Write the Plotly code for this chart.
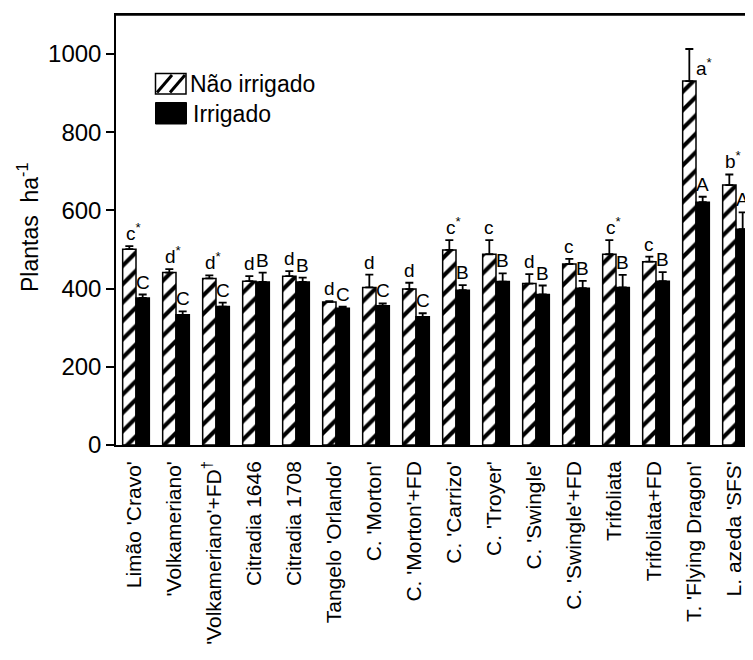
import plotly.graph_objects as go

categories = ["Limão 'Cravo'", "'Volkameriano'", "'Volkameriano'+FD<sup>†</sup>",
              "Citradia 1646", "Citradia 1708", "Tangelo 'Orlando'", "C. 'Morton'",
              "C. 'Morton'+FD", "C. 'Carrizo'", "C. 'Troyer'", "C. 'Swingle'",
              "C. 'Swingle'+FD", "Trifoliata", "Trifoliata+FD", "T. 'Flying Dragon'",
              "L. azeda 'SFS'"]

nao_irrigado = [501, 441, 426, 419, 432, 366, 403, 399, 499, 488, 413, 463, 488, 469, 931, 665]
nao_irrigado_err = [8, 9, 8, 13, 13, 2, 33, 16, 25, 36, 24, 13, 36, 13, 82, 27]
irrigado = [376, 333, 354, 417, 417, 350, 356, 328, 396, 418, 385, 401, 403, 419, 621, 552]
irrigado_err = [9, 9, 10, 24, 11, 4, 6, 9, 13, 21, 23, 19, 32, 23, 14, 43]

letras_nao = ["c*", "d*", "d*", "d", "d", "d", "d", "d", "c*", "c", "d", "c", "c*", "c", "a*", "b*"]
letras_irr = ["C", "C", "C", "B", "B", "C", "C", "C", "B", "B", "B", "B", "B", "B", "A", "A"]

yticks = [0, 200, 400, 600, 800, 1000]

FONT = "Arial, Liberation Sans, sans-serif"
OFF = 8  # page body margin
W, H = 753 - OFF, 660 - OFF
ML, MR, MT, MB = 116 - OFF, 0, 15 - OFF, 215
PW, PH = W - ML - MR, H - MT - MB

idx = list(range(len(categories)))
n = len(idx)

fig = go.Figure()
fig.add_trace(go.Bar(
    x=idx, y=nao_irrigado, name="Não irrigado",
    marker=dict(color="white", line=dict(color="black", width=1.5),
                pattern=dict(shape="/", fgcolor="#000000", bgcolor="white", fgopacity=1,
                             fillmode="replace", size=13, solidity=0.32)),
    error_y=dict(type="data", array=nao_irrigado_err, arrayminus=[0] * n, symmetric=False,
                 color="black", thickness=1.8, width=4),
    showlegend=False))
fig.add_trace(go.Bar(
    x=idx, y=irrigado, name="Irrigado",
    marker=dict(color="black", line=dict(color="black", width=1.5)),
    error_y=dict(type="data", array=irrigado_err, arrayminus=[0] * n, symmetric=False,
                 color="black", thickness=1.8, width=4),
    showlegend=False))

half = (1 - 1 / 3) / 4  # offset of each bar centre from the group centre


def fmt(s):
    return s[:-1] + "<sup>*</sup>" if s.endswith("*") else s


LFONT = dict(size=19, family=FONT, color="black")
annotations = []
for i in idx:
    top = nao_irrigado[i] + nao_irrigado_err[i]
    if i == 14:
        annotations.append(dict(x=i - half, y=nao_irrigado[i], xref="x", yref="y",
                                text=fmt(letras_nao[i]), showarrow=False, xanchor="left",
                                yanchor="bottom", xshift=5, font=LFONT))
    else:
        annotations.append(dict(x=i - half, y=top, xref="x", yref="y", text=fmt(letras_nao[i]),
                                showarrow=False, xanchor="center", yanchor="bottom", yshift=0,
                                xshift=4 if letras_nao[i].endswith("*") else 0, font=LFONT))
    annotations.append(dict(x=i + half, y=irrigado[i] + irrigado_err[i], xref="x", yref="y",
                            text=letras_irr[i], showarrow=False, xanchor="center", yanchor="bottom",
                            yshift=0, font=LFONT))


def px(x):
    return (x - OFF - ML) / PW


def py(y):
    return (MT + PH - (y - OFF)) / PH


# y-axis title
annotations.append(dict(x=px(28), y=py(228), xref="paper", yref="paper",
                        text="Plantas\u00a0 ha<sup>-1</sup>", textangle=-90, showarrow=False,
                        xanchor="center", yanchor="middle",
                        font=dict(size=23, family=FONT, color="black")))
# legend texts
annotations.append(dict(x=px(188), y=py(84), xref="paper", yref="paper", text="Não irrigado",
                        showarrow=False, xanchor="left", yanchor="middle",
                        font=dict(size=23, family=FONT, color="black")))
annotations.append(dict(x=px(191), y=py(114), xref="paper", yref="paper", text="Irrigado",
                        showarrow=False, xanchor="left", yanchor="middle",
                        font=dict(size=23, family=FONT, color="black")))

shapes = [
    dict(type="line", xref="paper", yref="paper", x0=0, x1=1, y0=1, y1=1,
         line=dict(color="black", width=1.5)),
    dict(type="rect", xref="paper", yref="paper", x0=px(155.5), x1=px(186), y0=py(94), y1=py(73.5),
         line=dict(color="black", width=1.5), fillcolor="white"),
    dict(type="line", xref="paper", yref="paper", x0=px(157), y0=py(92.5), x1=px(172), y1=py(75),
         line=dict(color="black", width=3)),
    dict(type="line", xref="paper", yref="paper", x0=px(170), y0=py(92.5), x1=px(185), y1=py(75),
         line=dict(color="black", width=3)),
    dict(type="rect", xref="paper", yref="paper", x0=px(155.5), x1=px(186.5), y0=py(124), y1=py(102.5),
         line=dict(color="black", width=1), fillcolor="black"),
]

fig.update_layout(
    width=W, height=H, margin=dict(l=ML, r=MR, t=MT, b=MB, pad=0, autoexpand=False),
    paper_bgcolor="white", plot_bgcolor="white",
    barmode="group", bargap=1 / 3, bargroupgap=0,
    font=dict(family=FONT, color="black"),
    annotations=annotations, shapes=shapes,
    xaxis=dict(range=[-0.5, -0.5 + PW / 40], tickmode="array", tickvals=[i - 0.05 for i in idx],
               ticktext=categories, tickangle=-90, showline=True, linecolor="black", linewidth=1.5,
               mirror=True, ticks="", showgrid=False, zeroline=False, ticklabelstandoff=6,
               tickfont=dict(size=21, family=FONT, color="black")),
    yaxis=dict(range=[0, 1100], tickmode="array", tickvals=yticks, ticks="outside", ticklen=8,
               tickwidth=1.5, tickcolor="black", showline=True, linecolor="black", linewidth=1.5,
               showgrid=False, zeroline=False,
               tickfont=dict(size=24, family=FONT, color="black")),
)

fig.write_html("out.html")
